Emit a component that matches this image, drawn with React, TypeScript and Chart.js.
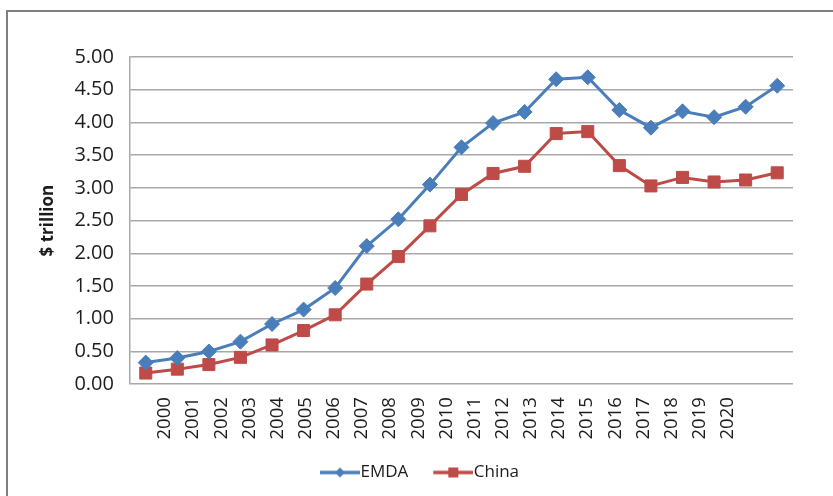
import React, { useEffect, useRef } from "react";
import { Chart, registerables } from "chart.js";

Chart.register(...registerables);

const years = [
  "2000", "2001", "2002", "2003", "2004", "2005", "2006", "2007", "2008", "2009", "2010",
  "2011", "2012", "2013", "2014", "2015", "2016", "2017", "2018", "2019", "2020",
];
const emda = [
  0.33, 0.4, 0.5, 0.65, 0.92, 1.14, 1.47, 2.11, 2.52, 3.05, 3.62,
  3.99, 4.16, 4.66, 4.69, 4.19, 3.92, 4.17, 4.08, 4.24, 4.56,
];
const china = [
  0.17, 0.23, 0.3, 0.41, 0.6, 0.82, 1.06, 1.53, 1.95, 2.42, 2.9,
  3.22, 3.33, 3.83, 3.86, 3.34, 3.03, 3.16, 3.09, 3.12, 3.23,
];
const seriesNames = ["EMDA", "China"];
const yMin = 0;
const yMax = 5;
const yStep = 0.5;

const BLUE = "#4A7EBB";
const RED = "#BE4B48";
const GRID = "#a8a8a8";
const TEXT = "#1c1c1c";
const FONT = "'Open Sans', sans-serif";

function makeIcon(color: string, kind: "diamond" | "square"): HTMLCanvasElement {
  const c = document.createElement("canvas");
  c.width = 56;
  c.height = 16;
  const ctx = c.getContext("2d")!;
  ctx.strokeStyle = color;
  ctx.fillStyle = color;
  ctx.lineWidth = 3.5;
  ctx.beginPath();
  ctx.moveTo(16, 8);
  ctx.lineTo(56, 8);
  ctx.stroke();
  const cx = 36;
  const cy = 8;
  ctx.beginPath();
  if (kind === "diamond") {
    const r = 5;
    ctx.moveTo(cx, cy - r);
    ctx.lineTo(cx + r, cy);
    ctx.lineTo(cx, cy + r);
    ctx.lineTo(cx - r, cy);
    ctx.closePath();
  } else {
    ctx.rect(cx - 5, cy - 5, 10, 10);
  }
  ctx.fill();
  return c;
}

const framePlugin = {
  id: "frame",
  beforeDraw(chart: any) {
    const ctx = chart.ctx;
    ctx.save();
    ctx.fillStyle = "#ffffff";
    ctx.fillRect(0, 0, chart.width, chart.height);
    ctx.strokeStyle = "#7f7f7f";
    ctx.lineWidth = 2;
    ctx.beginPath();
    ctx.moveTo(7, chart.height + 5);
    ctx.lineTo(7, 11);
    ctx.lineTo(chart.width + 5, 11);
    ctx.stroke();
    ctx.restore();
  },
};

export default function App() {
  const ref = useRef<HTMLCanvasElement | null>(null);

  useEffect(() => {
    if (!ref.current) return;
    const icons = [makeIcon(BLUE, "diamond"), makeIcon(RED, "square")];
    const chart = new Chart(ref.current, {
      type: "line",
      data: {
        labels: years,
        datasets: [
          {
            label: seriesNames[0],
            data: emda,
            borderColor: BLUE,
            backgroundColor: BLUE,
            borderWidth: 3,
            pointStyle: "rectRot",
            pointRadius: 7.5,
            pointBorderWidth: 1,
            pointBackgroundColor: BLUE,
            pointBorderColor: BLUE,
            tension: 0,
            xAxisID: "x",
            yAxisID: "y",
          },
          {
            label: seriesNames[1],
            data: china,
            borderColor: RED,
            backgroundColor: RED,
            borderWidth: 3,
            pointStyle: "rect",
            pointRadius: 8.5,
            pointBorderWidth: 1,
            pointBackgroundColor: RED,
            pointBorderColor: RED,
            tension: 0,
            xAxisID: "x",
            yAxisID: "y",
          },
        ],
      },
      options: {
        animation: false,
        responsive: false,
        layout: { padding: { left: 38, right: 40, top: 57, bottom: 5 } },
        plugins: {
          tooltip: { enabled: false },
          legend: {
            position: "bottom",
            labels: {
              usePointStyle: true,
              pointStyleWidth: 40,
              padding: 17,
              color: TEXT,
              font: { family: FONT, size: 17 },
              generateLabels: (ch: any) =>
                ch.data.datasets.map((ds: any, i: number) => ({
                  text: ds.label,
                  pointStyle: icons[i],
                  fillStyle: ds.borderColor,
                  strokeStyle: ds.borderColor,
                  lineWidth: 0,
                  hidden: false,
                  datasetIndex: i,
                  fontColor: TEXT,
                })),
            },
          },
        },
        scales: {
          x: {
            type: "category",
            display: false,
            offset: true,
          },
          xYears: {
            type: "linear",
            position: "bottom",
            weight: 1,
            min: -1.243,
            max: 22.31,
            grid: { display: false, drawTicks: false },
            border: { display: false },
            afterFit: (scale: any) => {
              scale.height -= 5.5;
            },
            ticks: {
              stepSize: 1,
              autoSkip: false,
              includeBounds: false,
              minRotation: 90,
              maxRotation: 90,
              padding: 13,
              color: TEXT,
              font: { family: FONT, size: 18.5 },
              callback: (v: any) => (Number.isInteger(v) && years[v] ? years[v] : ""),
            },
          },
          y: {
            type: "linear",
            min: yMin,
            max: yMax,
            grid: { color: GRID, lineWidth: 1.5, drawTicks: false },
            border: { display: true, color: GRID, width: 1.5 },
            ticks: {
              stepSize: yStep,
              padding: 16,
              color: TEXT,
              font: { family: FONT, size: 20 },
              callback: (v: any) => Number(v).toFixed(2),
            },
            title: {
              display: true,
              text: "$ trillion",
              color: TEXT,
              font: { family: FONT, size: 17, weight: "bold" },
              padding: { top: 0, bottom: 0 },
            },
          },
        },
      },
      plugins: [framePlugin],
    } as any);
    return () => chart.destroy();
  }, []);

  return (
    <div style={{ position: "fixed", left: 0, top: 0, width: 833, height: 496, overflow: "hidden" }}>
      <canvas ref={ref} width={833} height={496} style={{ display: "block" }} />
    </div>
  );
}
